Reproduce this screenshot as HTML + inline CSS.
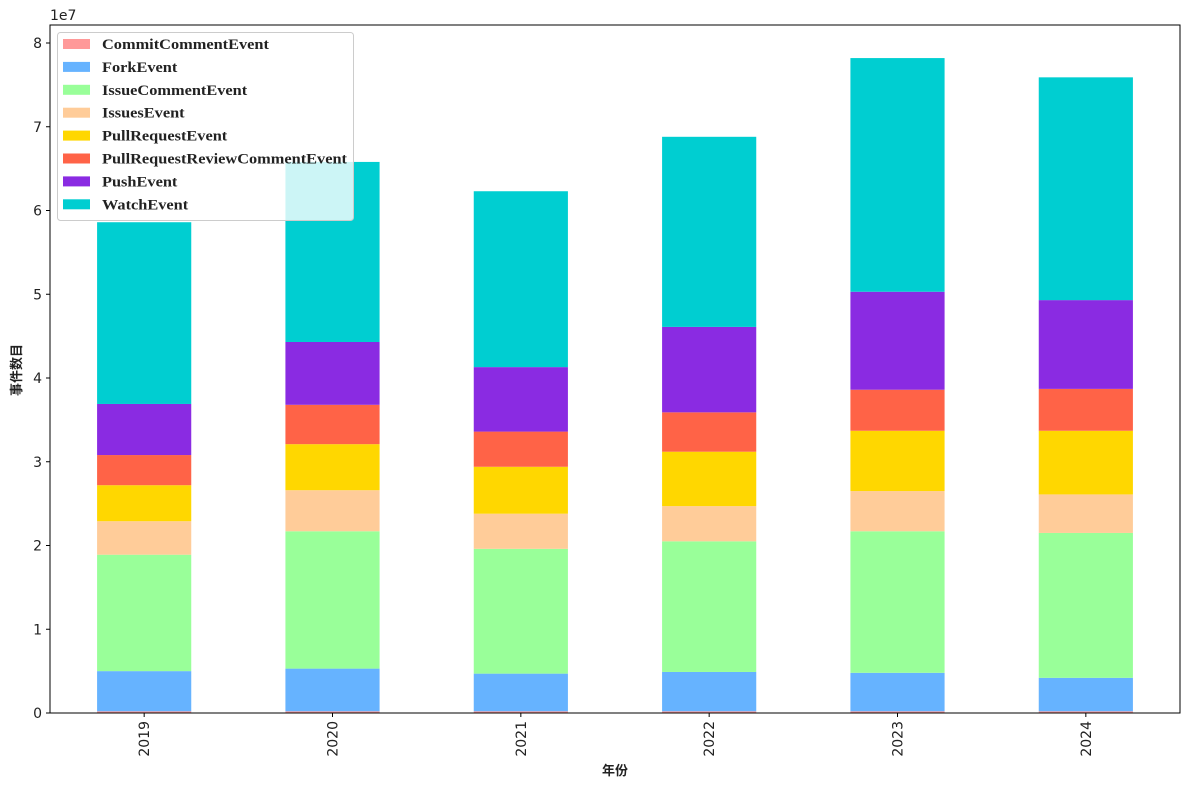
<!DOCTYPE html>
<html><head><meta charset="utf-8">
<style>
body{margin:0;background:#fff;}
svg{display:block;font-family:"DejaVu Sans","Noto Sans CJK SC",sans-serif;}
.lg{font-family:"Liberation Serif","Noto Serif CJK SC",serif;font-weight:bold;font-size:15px;fill:#222;}
</style></head>
<body>
<svg id="chart" width="1189" height="790" viewBox="0 0 1189 790"></svg>
<script>
const years = ["2019","2020","2021","2022","2023","2024"];
const seriesNames = ["CommitCommentEvent","ForkEvent","IssueCommentEvent","IssuesEvent","PullRequestEvent","PullRequestReviewCommentEvent","PushEvent","WatchEvent"];
const commitComment = [0.2, 0.2, 0.2, 0.2, 0.2, 0.2];
const forkEvent = [4.8, 5.1, 4.5, 4.7, 4.6, 4.0];
const issueComment = [13.9, 16.4, 14.9, 15.6, 16.9, 17.3];
const issuesEvent = [4.0, 4.9, 4.2, 4.2, 4.8, 4.6];
const pullRequest = [4.3, 5.5, 5.6, 6.5, 7.2, 7.6];
const prReviewComment = [3.6, 4.7, 4.2, 4.7, 4.9, 5.0];
const pushEvent = [6.1, 7.5, 7.7, 10.2, 11.7, 10.6];
const watchEvent = [21.7, 21.5, 21.0, 22.7, 27.9, 26.6];
const yTicks = [0,1,2,3,4,5,6,7,8];
const colors = ["#ff9999","#66b3ff","#99ff99","#ffcc99","#ffd700","#ff6347","#8a2be2","#00ced1"];
const series = [commitComment,forkEvent,issueComment,issuesEvent,pullRequest,prReviewComment,pushEvent,watchEvent];

const NS="http://www.w3.org/2000/svg";
const svg=document.getElementById('chart');
const L=50,R=1180,T=25,B=713;
const yPer=(713-43)/8;
function y(v){return B - v/10*yPer;}
const step=(R-L)/years.length;
function xc(i){return L+step*(i+0.5);}
const bw=step*0.5;
function mk(tag,attrs,parent){const e=document.createElementNS(NS,tag);for(const k in attrs)e.setAttribute(k,attrs[k]);(parent||svg).appendChild(e);return e;}

years.forEach((yr,i)=>{
  let cum=0;
  series.forEach((s,j)=>{
    const v=s[i];
    const r=mk('rect',{x:xc(i)-bw/2,y:y(cum+v),width:bw,height:y(cum)-y(cum+v),fill:colors[j]});
    
    
    cum+=v;
  });
});
const fr=mk('rect',{x:L,y:T,width:R-L,height:B-T,fill:'none',stroke:'#000','stroke-width':1});


yTicks.forEach(t=>{
  const yy=y(t*10);
  mk('line',{x1:L-4,x2:L,y1:yy,y2:yy,stroke:'#000'});
  const tx=mk('text',{x:L-8,y:yy+5,'text-anchor':'end','font-size':14,fill:'#222'});
  tx.textContent=t;
  
  
});
const ex=mk('text',{x:L,y:20,'font-size':14,fill:'#222'});ex.textContent='1e7';


years.forEach((yr,i)=>{
  const xx=xc(i);
  mk('line',{x1:xx,x2:xx,y1:B,y2:B+4,stroke:'#000'});
  const tx=mk('text',{x:0,y:0,'text-anchor':'end','font-size':14,fill:'#222',transform:`translate(${xx+5},${B+8}) rotate(-90)`});
  tx.textContent=yr;
  
  
});
const xt=mk('text',{x:(L+R)/2,y:775,'text-anchor':'middle','font-size':13,'font-weight':'bold',fill:'#222'});xt.textContent='年份';


const yt=mk('text',{x:0,y:0,'text-anchor':'middle','font-size':13,'font-weight':'bold',fill:'#222',transform:'translate(21,370) rotate(-90)'});yt.textContent='事件数目';


const lg=mk('g',{});


mk('rect',{x:57.5,y:32.5,width:296,height:188,rx:3,fill:'#fff','fill-opacity':0.8,stroke:'#ccc'},lg);
const texts=[];
seriesNames.forEach((n,j)=>{
  const yy=44+j*22.9;
  const g=mk('g',{},lg);
  
  
  mk('rect',{x:63,y:yy-5,width:27,height:10,fill:colors[j]},g);
  const t=mk('text',{x:102,y:yy+5,class:'lg'},g);t.textContent=n;
  texts.push(t);
});
let maxW=0;texts.forEach(t=>{maxW=Math.max(maxW,t.getComputedTextLength());});
const sc=maxW>0?245/maxW:1;
texts.forEach(t=>{const w=t.getComputedTextLength();if(w>0){t.setAttribute('textLength',w*sc);t.setAttribute('lengthAdjust','spacingAndGlyphs');}});
</script>
</body></html>
